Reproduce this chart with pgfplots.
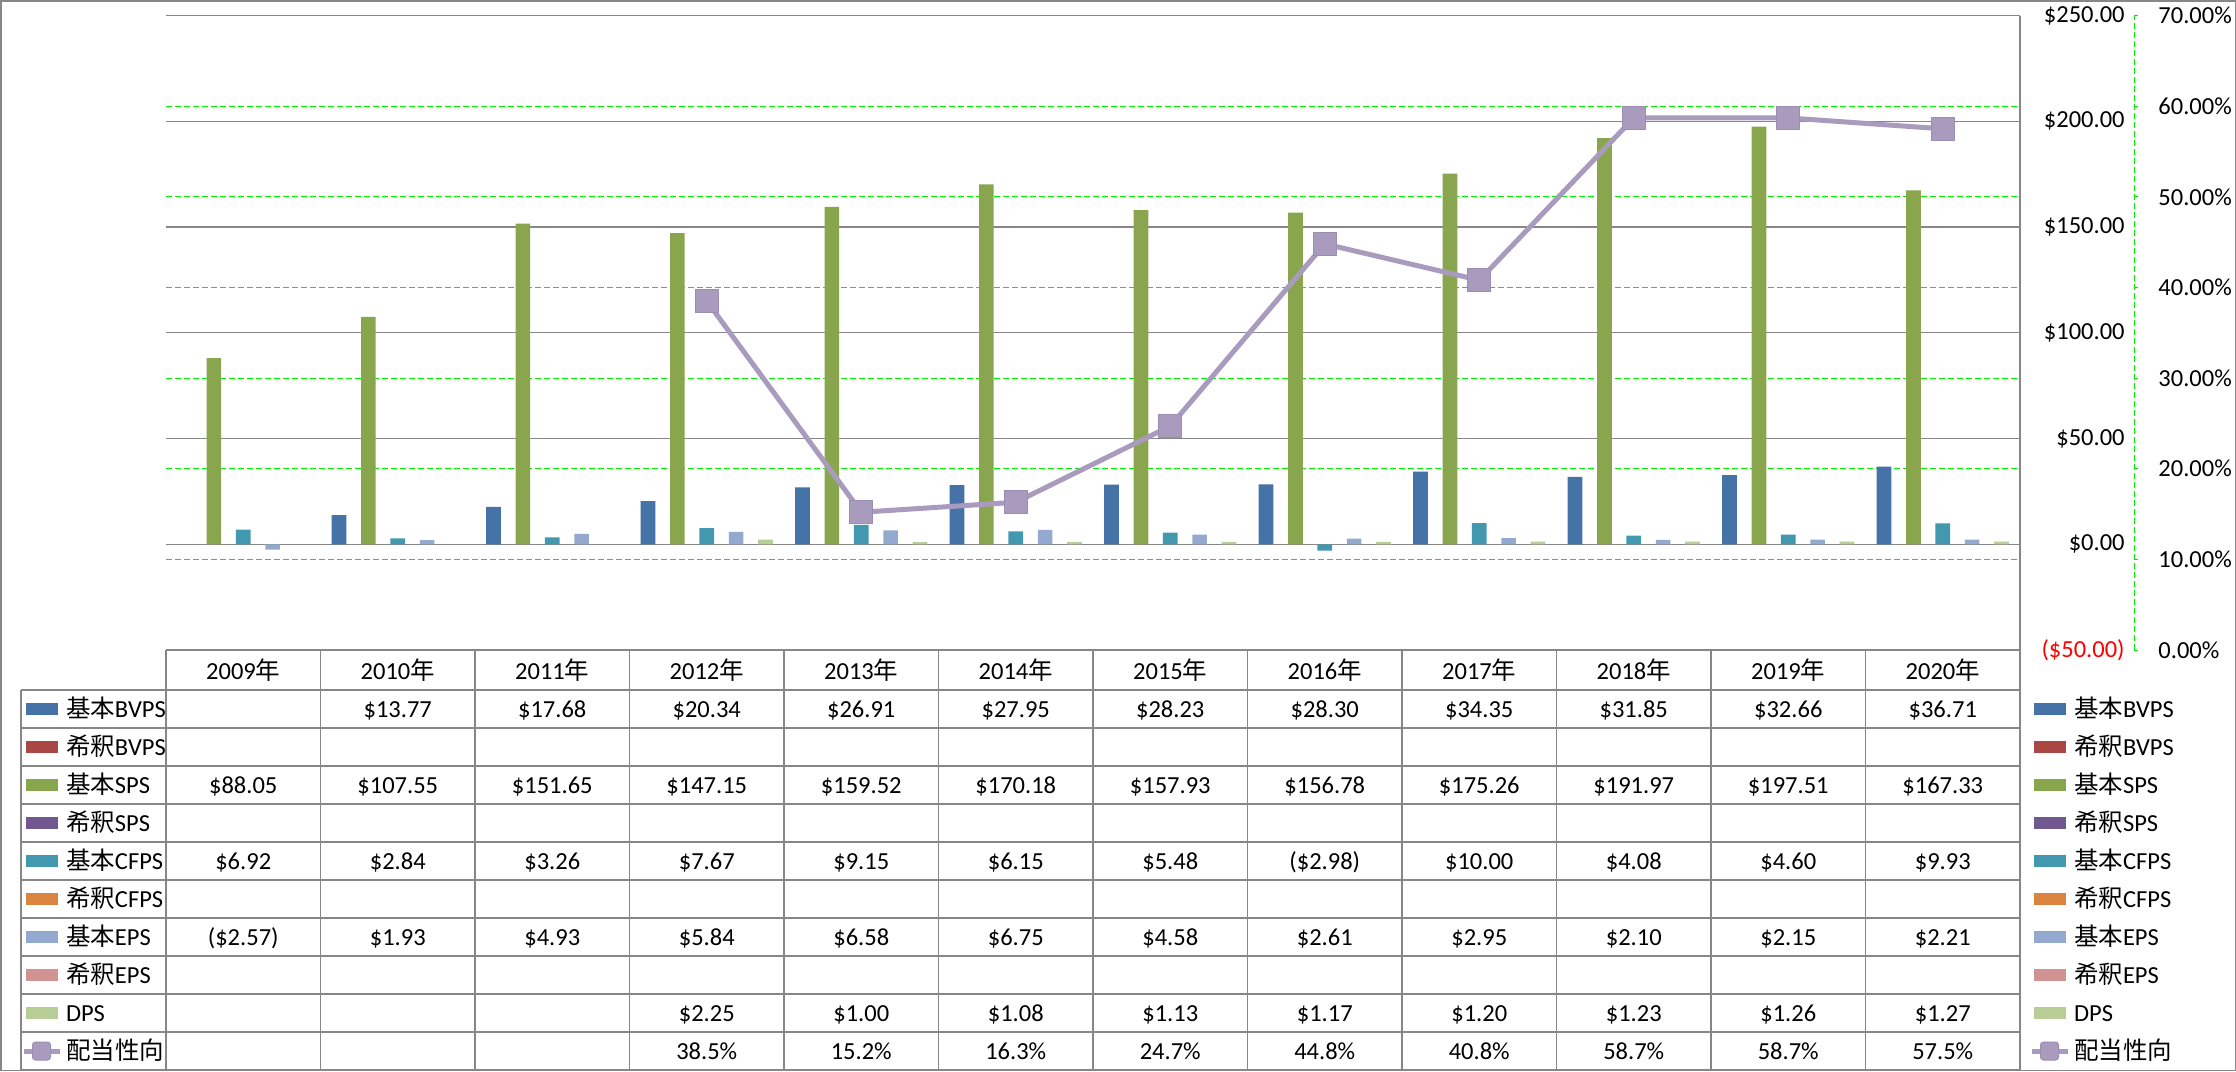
\documentclass[border=0pt]{standalone}
\usepackage{pgfplots}
\usepackage{pgfplotstable}
\pgfplotsset{compat=1.18}
\usepackage{fontspec}
\setmainfont{Carlito}
\newfontfamily\cjk{Noto Sans CJK JP}
\definecolor{cBVPS}{HTML}{4572A7}
\definecolor{cdBVPS}{HTML}{AA4643}
\definecolor{cSPS}{HTML}{89A54E}
\definecolor{cdSPS}{HTML}{71588F}
\definecolor{cCFPS}{HTML}{4198AF}
\definecolor{cdCFPS}{HTML}{DB843D}
\definecolor{cEPS}{HTML}{93A9CF}
\definecolor{cdEPS}{HTML}{D19392}
\definecolor{cDPS}{HTML}{B9CD96}
\definecolor{cPay}{HTML}{A99BBD}
\definecolor{cPayD}{HTML}{9C8EB3}
\definecolor{gridgray}{HTML}{878787}
\definecolor{gridgreen}{HTML}{00F000}

\pgfplotstableread{
x bvps sps cfps eps dps pay
0 nan 88.05 6.92 -2.57 nan nan
1 13.77 107.55 2.84 1.93 nan nan
2 17.68 151.65 3.26 4.93 nan nan
3 20.34 147.15 7.67 5.84 2.25 0.385
4 26.91 159.52 9.15 6.58 1.00 0.152
5 27.95 170.18 6.15 6.75 1.08 0.163
6 28.23 157.93 5.48 4.58 1.13 0.247
7 28.30 156.78 -2.98 2.61 1.17 0.448
8 34.35 175.26 10.00 2.95 1.20 0.408
9 31.85 191.97 4.08 2.10 1.23 0.587
10 32.66 197.51 4.60 2.15 1.26 0.587
11 36.71 167.33 9.93 2.21 1.27 0.575
}\datatable

\pgfplotsset{plotarea/.style={at={(83pt,-325pt)}, anchor=south west, scale only axis,
  width=927pt, height=317.25pt, xmin=-0.5, xmax=11.5}}
\pgfplotsset{legendbox/.style={hide axis, scale only axis, width=1pt, height=1pt,
  xmin=0, xmax=1, ymin=0, ymax=1, anchor=north west,
  legend cell align=left,
  legend style={at={(0,1)}, anchor=north west, draw=none, fill=none, inner sep=0pt,
    outer sep=0pt, row sep=0pt, column sep=2pt,
    nodes={inner sep=0pt, text height=13.6pt, text depth=5.4pt}},
  legend image code/.code={\path (0pt,0pt) (18pt,0pt); \fill[##1] (2pt,-3.1pt) rectangle (18pt,3.1pt);}}}
\newcommand\legendimages{%
  \addlegendimage{fill=cBVPS, draw=none}
  \addlegendimage{fill=cdBVPS, draw=none}
  \addlegendimage{fill=cSPS, draw=none}
  \addlegendimage{fill=cdSPS, draw=none}
  \addlegendimage{fill=cCFPS, draw=none}
  \addlegendimage{fill=cdCFPS, draw=none}
  \addlegendimage{fill=cEPS, draw=none}
  \addlegendimage{fill=cdEPS, draw=none}
  \addlegendimage{fill=cDPS, draw=none}
  \addlegendimage{legend image code/.code={\path (0pt,0pt) (19pt,0pt);
     \draw[cPay, line width=2.5pt] (1pt,0pt) -- (19pt,0pt);
     \draw[fill=cPay, draw=cPayD, line width=0.5pt, rounded corners=1.5pt] (5.5pt,-4.5pt) rectangle (14.5pt,4.5pt);}}
  \legend{{\cjk 基本}BVPS,{\cjk 希釈}BVPS,{\cjk 基本}SPS,{\cjk 希釈}SPS,{\cjk 基本}CFPS,{\cjk 希釈}CFPS,{\cjk 基本}EPS,{\cjk 希釈}EPS,DPS,{\cjk 配当性向}}}

\begin{document}
\fontsize{12.25}{14}\selectfont
\begin{tikzpicture}
% green grid of the percentage axis (below the bars)
\begin{axis}[plotarea, ymin=0, ymax=0.7,
  ytick={0.1,0.2,0.3,0.4,0.5,0.6}, yticklabels={}, xtick=\empty,
  ymajorgrids, major grid style={draw=gridgreen, dash pattern=on 3pt off 1.5pt, line width=0.5pt},
  axis line style={draw=none}, major tick length=0pt, tick style={draw=none}]
\end{axis}
% bars with the dollar axis
\begin{axis}[plotarea, ymin=-50, ymax=250,
  ytick={-50,0,50,100,150,200,250},
  yticklabels={\textcolor{red}{(\$50.00)},\$0.00,\$50.00,\$100.00,\$150.00,\$200.00,\$250.00},
  yticklabel pos=right,
  yticklabel style={anchor=east, inner sep=0pt, xshift=52.5pt},
  xtick={0,1,2,3,4,5,6,7,8,9,10,11},
  xticklabels={2009{\cjk 年},2010{\cjk 年},2011{\cjk 年},2012{\cjk 年},2013{\cjk 年},2014{\cjk 年},2015{\cjk 年},2016{\cjk 年},2017{\cjk 年},2018{\cjk 年},2019{\cjk 年},2020{\cjk 年}},
  xticklabel style={anchor=center, inner sep=0pt, yshift=-10pt},
  ymajorgrids, major grid style={draw=gridgray, line width=0.6pt},
  axis line style={draw=none}, major tick length=0pt, tick style={draw=none}]
\addplot[ybar, bar width=0.095, bar shift=-0.38, fill=cBVPS, draw=none] table[x=x, y=bvps]{\datatable};
\addplot[ybar, bar width=0.095, bar shift=-0.19, fill=cSPS, draw=none] table[x=x, y=sps]{\datatable};
\addplot[ybar, bar width=0.095, bar shift=0, fill=cCFPS, draw=none] table[x=x, y=cfps]{\datatable};
\addplot[ybar, bar width=0.095, bar shift=0.19, fill=cEPS, draw=none] table[x=x, y=eps]{\datatable};
\addplot[ybar, bar width=0.095, bar shift=0.38, fill=cDPS, draw=none] table[x=x, y=dps]{\datatable};
\end{axis}
% payout ratio line
\begin{axis}[plotarea, ymin=0, ymax=0.7, hide axis]
\addplot[draw=cPay, line width=2.5pt, line join=round, mark=square*, mark size=5.75pt,
  mark options={fill=cPay, draw=cPayD, line width=0.5pt, rounded corners=1.5pt}] table[x=x, y=pay]{\datatable};
\end{axis}
% percentage axis
\begin{axis}[at={(83pt,-325pt)}, anchor=south west, scale only axis, width=984pt, height=317.25pt,
  xmin=0, xmax=1, ymin=0, ymax=0.7,
  axis x line=none, axis y line*=right,
  ytick={0,0.1,0.2,0.3,0.4,0.5,0.6,0.7},
  yticklabels={0.00\%,10.00\%,20.00\%,30.00\%,40.00\%,50.00\%,60.00\%,70.00\%},
  y axis line style={draw=gridgreen, dash pattern=on 3pt off 1.5pt, line width=0.5pt, -},
  ytick style={draw=gridgreen, line width=0.5pt},
  tick align=outside, major tick length=2pt,
  yticklabel style={anchor=west, inner sep=0pt, xshift=10pt}]
\end{axis}
% legends
\begin{axis}[legendbox, at={(10.5pt,-345pt)}]
\legendimages
\end{axis}
\begin{axis}[legendbox, at={(1014.5pt,-345pt)}]
\legendimages
\end{axis}
% data table
\begin{scope}[x=0.5pt, y=-0.5pt, line width=0.6pt]
\draw[gridgray, line width=0.75pt] (0.75,0.75) rectangle (2235.25,1070.25);
\foreach \yy in {690,728,766,804,842,880,918,956,994,1032,1070} \draw[gridgray] (21,\yy) -- (2020,\yy);
\draw[gridgray] (166,650) -- (2020,650);
\draw[gridgray] (21,690) -- (21,1070);
\foreach \i in {0,...,11} \draw[gridgray] ({166+154.5*\i},650) -- ({166+154.5*\i},1070);
\draw[gridgray] (2020,15.5) -- (2020,1070);
\foreach \v [count=\i from 0] in {{},{\$13.77},{\$17.68},{\$20.34},{\$26.91},{\$27.95},{\$28.23},{\$28.30},{\$34.35},{\$31.85},{\$32.66},{\$36.71}}
  \node[anchor=base, inner sep=0pt] at ({166+154.5*(\i+0.5)},717) {\v};
\foreach \v [count=\i from 0] in {{\$88.05},{\$107.55},{\$151.65},{\$147.15},{\$159.52},{\$170.18},{\$157.93},{\$156.78},{\$175.26},{\$191.97},{\$197.51},{\$167.33}}
  \node[anchor=base, inner sep=0pt] at ({166+154.5*(\i+0.5)},793) {\v};
\foreach \v [count=\i from 0] in {{\$6.92},{\$2.84},{\$3.26},{\$7.67},{\$9.15},{\$6.15},{\$5.48},{(\$2.98)},{\$10.00},{\$4.08},{\$4.60},{\$9.93}}
  \node[anchor=base, inner sep=0pt] at ({166+154.5*(\i+0.5)},869) {\v};
\foreach \v [count=\i from 0] in {{(\$2.57)},{\$1.93},{\$4.93},{\$5.84},{\$6.58},{\$6.75},{\$4.58},{\$2.61},{\$2.95},{\$2.10},{\$2.15},{\$2.21}}
  \node[anchor=base, inner sep=0pt] at ({166+154.5*(\i+0.5)},945) {\v};
\foreach \v [count=\i from 0] in {{},{},{},{\$2.25},{\$1.00},{\$1.08},{\$1.13},{\$1.17},{\$1.20},{\$1.23},{\$1.26},{\$1.27}}
  \node[anchor=base, inner sep=0pt] at ({166+154.5*(\i+0.5)},1021) {\v};
\foreach \v [count=\i from 0] in {{},{},{},{38.5\%},{15.2\%},{16.3\%},{24.7\%},{44.8\%},{40.8\%},{58.7\%},{58.7\%},{57.5\%}}
  \node[anchor=base, inner sep=0pt] at ({166+154.5*(\i+0.5)},1059) {\v};
\end{scope}
\pgfresetboundingbox
\path[use as bounding box] (0pt,0pt) rectangle (1118pt,-535.5pt);
\end{tikzpicture}
\end{document}
